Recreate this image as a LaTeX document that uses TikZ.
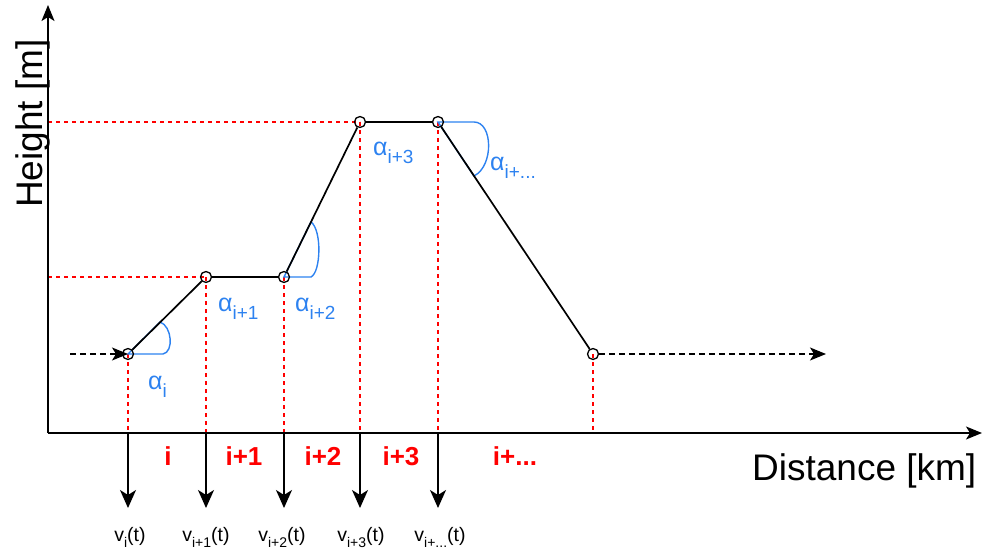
\documentclass[tikz,border=0pt]{standalone}
\usepackage{fontspec}
\setmainfont{Liberation Sans}
\usetikzlibrary{arrows.meta}
\definecolor{ablue}{RGB}{45,130,240}
\newcommand{\lowidx}[2]{\raisebox{-0.32em}{\fontsize{#1}{#1}\selectfont #2}}
\begin{document}
\begin{tikzpicture}[x=1pt,y=-1pt,
  axisline/.style={line width=1.6pt,-{Stealth[length=16pt,width=13pt,inset=4pt]}},
  seg/.style={line width=1.7pt},
  guide/.style={red,line width=1.4pt,dash pattern=on 4pt off 4pt},
  flow/.style={line width=1.4pt,dash pattern=on 6pt off 4pt,-{Stealth[length=16pt,width=13pt,inset=4pt]}},
  downarrow/.style={line width=1.6pt,-{Stealth[length=18pt,width=16pt,inset=5pt]}},
  ptc/.style={circle,draw,line width=1.3pt,minimum size=11pt,inner sep=0pt},
  anglemark/.style={ablue,line width=1.4pt},
  alab/.style={ablue,font=\fontsize{25}{25}\selectfont,inner sep=0pt,anchor=base west},
  seclab/.style={red,font=\fontsize{26}{26}\selectfont\bfseries,inner sep=0pt,anchor=base},
  vlab/.style={font=\fontsize{19.5}{19.5}\selectfont,inner sep=0pt,anchor=base},
  axlab/.style={font=\fontsize{37}{37}\selectfont,inner sep=0pt,anchor=base west}]
\useasboundingbox (0,0) rectangle (989,551);

% coordinates
\coordinate (O) at (48,433);
\coordinate (ytop) at (48,5);
\coordinate (xend) at (982,433);
\coordinate (h1) at (48,277);
\coordinate (h3) at (48,122);
\foreach \n/\x in {0/128,1/206,2/284,3/360,4/438,5/593}{
  \coordinate (b\n) at (\x,433);
}
\foreach \n/\x in {0/128,1/206,2/284,3/360,4/438}{
  \coordinate (e\n) at (\x,508);
}
\coordinate (in) at (70,354);
\coordinate (out) at (826,354);

% points (centers)
\coordinate (c0) at (128,354);
\coordinate (c1) at (206,277);
\coordinate (c2) at (284,277);
\coordinate (c3) at (360,122);
\coordinate (c4) at (438,122);
\coordinate (c5) at (593,354);

% red guides
\draw[guide] (h1) -- (c1);
\draw[guide] (h3) -- (c3);
\foreach \n in {0,...,5}{ \draw[guide] (c\n) -- (b\n); }

% angle marks
\draw[anglemark] (c0) -- (163,354) .. controls (174,352) and (172,326) .. (160,322) -- cycle;
\draw[anglemark] (c2) -- (311,277) .. controls (321,272) and (322,230) .. (311,222) -- cycle;
\draw[anglemark] (c4) -- (474,122) .. controls (493,122) and (494,166) .. (474,176) -- cycle;

% point circles
\foreach \n in {0,...,5}{ \node[ptc] (p\n) at (c\n) {}; }

% profile
\draw[seg] (p0) -- (p1);
\draw[seg] (p1) -- (p2);
\draw[seg] (p2) -- (p3);
\draw[seg] (p3) -- (p4);
\draw[seg] (p4) -- (p5);

% flows
\draw[flow] (in) -- (c0);
\draw[flow] (p5) -- (out);

% axes
\draw[axisline] (O) -- (ytop);
\draw[axisline] (O) -- (xend);

% down arrows
\foreach \n in {0,...,4}{ \draw[downarrow] (b\n) -- (e\n); }

% angle labels
\node[alab] (a0) at (148,389) {α\lowidx{19}{i}};
\node[alab] (a1) at (218,311) {α\lowidx{19}{i+1}};
\node[alab] (a2) at (295,311) {α\lowidx{19}{i+2}};
\node[alab] (a3) at (373,155) {α\lowidx{19}{i+3}};
\node[alab] (a4) at (490,170) {α\lowidx{19}{i+...}};

% section labels
\node[seclab] (s0) at (168,465) {i};
\node[seclab] (s1) at (244,465) {i+1};
\node[seclab] (s2) at (323,465) {i+2};
\node[seclab] (s3) at (401,465) {i+3};
\node[seclab] (s4) at (515,465) {i+...};

% speed labels
\node[vlab] (v0) at (130,541) {v\lowidx{14}{i}(t)};
\node[vlab] (v1) at (206,541) {v\lowidx{14}{i+1}(t)};
\node[vlab] (v2) at (282,541) {v\lowidx{14}{i+2}(t)};
\node[vlab] (v3) at (361,541) {v\lowidx{14}{i+3}(t)};
\node[vlab] (v4) at (440,541) {v\lowidx{14}{i+...}(t)};

% axis labels
\node[axlab,rotate=90] (ylab) at (42,208) {Height [m]};
\node[axlab] (xlab) at (752,480) {Distance [km]};
\end{tikzpicture}
\end{document}
